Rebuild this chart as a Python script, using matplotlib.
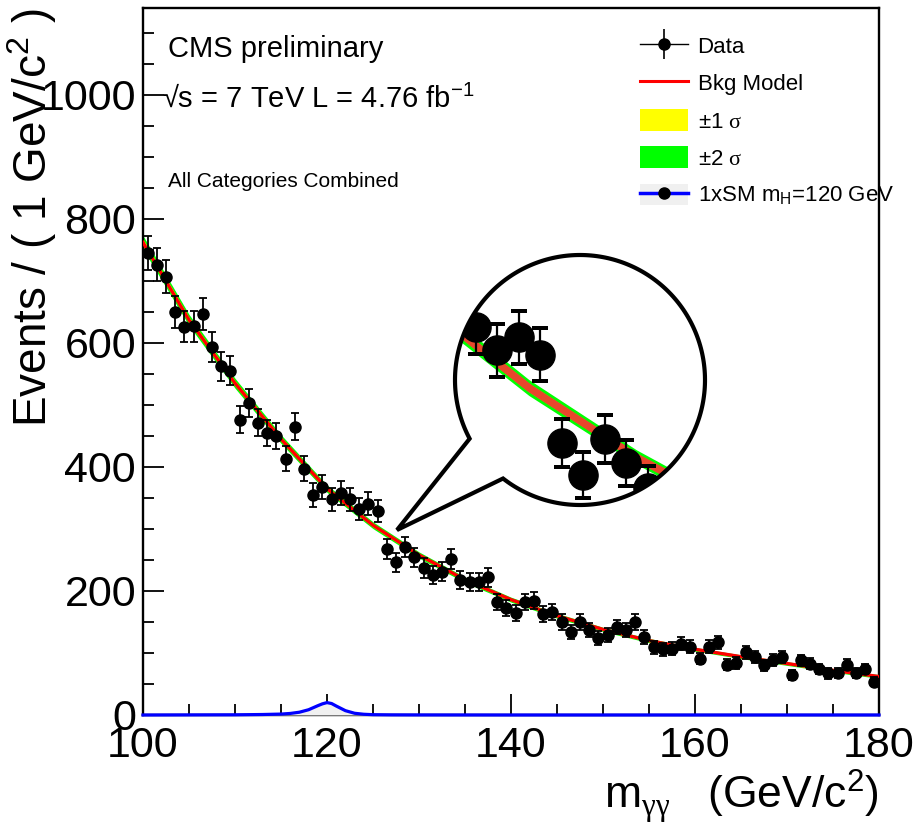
import numpy as np
import matplotlib
matplotlib.use("Agg")
import matplotlib.pyplot as plt
from matplotlib.lines import Line2D
from matplotlib.patches import Patch, Circle, PathPatch
from matplotlib.path import Path
from matplotlib.legend_handler import HandlerTuple
from matplotlib.ticker import MultipleLocator

plt.rcParams['font.family'] = ['Liberation Sans', 'DejaVu Sans']
plt.rcParams['mathtext.fontset'] = 'custom'
plt.rcParams['mathtext.rm'] = 'Liberation Sans'
plt.rcParams['mathtext.it'] = 'Liberation Sans:italic'
plt.rcParams['mathtext.cal'] = 'Liberation Serif'

# --- data ---
mass = np.arange(100.5, 180, 1.0)   # 1 GeV bin centres
events = [745, 726, 707, 650, 626, 627, 647, 594, 562, 555,
          476, 503, 471, 455, 450, 413, 465, 397, 355, 368,
          348, 358, 348, 332, 341, 329, 268, 246, 271, 254,
          237, 226, 231, 252, 218, 214, 215, 222, 182, 172,
          164, 182, 184, 163, 166, 150, 134, 150, 137, 124,
          129, 142, 137, 150, 126, 109, 106, 107, 115, 110,
          91, 110, 117, 81, 84, 101, 93, 80, 89, 93,
          65, 88, 83, 74, 67, 68, 81, 68, 74, 54]

bkg_mass = [100, 105, 110, 115, 120, 125, 130, 135, 140,
            145, 150, 155, 160, 165, 170, 175, 180]
bkg_model = [762, 637, 535, 445, 365, 306, 258, 218, 186,
             160, 138, 120, 106, 94, 83, 72, 62]
band_2sig = [11, 9, 8, 7, 6, 5.5, 5, 4.5, 4, 4, 3.5, 3.5, 3, 3, 3, 3, 3]
band_1sig = [5.5, 4.5, 4, 3.5, 3, 2.8, 2.5, 2.3, 2, 2, 1.8, 1.8, 1.5, 1.5, 1.5, 1.5, 1.5]

sig_mass = [100, 110, 113, 115, 116, 117, 118, 119, 119.5, 120, 120.5,
            121, 122, 123, 124, 125, 127, 130, 140, 180]
sig_events = [0, 0.3, 0.8, 1.5, 2.5, 4.5, 8.5, 15, 18, 20, 18.5,
              14.5, 7, 2.8, 1.2, 0.5, 0.2, 0.1, 0, 0]

bkg_lo2 = np.array(bkg_model) - np.array(band_2sig)
bkg_hi2 = np.array(bkg_model) + np.array(band_2sig)
bkg_lo1 = np.array(bkg_model) - np.array(band_1sig)
bkg_hi1 = np.array(bkg_model) + np.array(band_1sig)
err = np.sqrt(events)

W, H = 915, 826
fig = plt.figure(figsize=(W / 100, H / 100), dpi=100)
ax = fig.add_axes([143 / W, 111 / H, 736 / W, 707 / H])

ax.fill_between(bkg_mass, bkg_lo2, bkg_hi2, color='#00ff00', lw=0, zorder=2)
ax.fill_between(bkg_mass, bkg_lo1, bkg_hi1, color='#ffff00', lw=0, zorder=2)
ax.plot(bkg_mass, bkg_model, color='#ff0000', lw=2.4, zorder=3)
ax.errorbar(mass, events, yerr=err, fmt='o', color='k', ms=8,
            elinewidth=1.3, capsize=3, capthick=1.3, zorder=5)
ax.fill_between(sig_mass, 0, sig_events, color='#f0f0f0', lw=0, zorder=4)
ax.plot(sig_mass, sig_events, color='#0000ff', lw=2.3, clip_on=False, zorder=6)

ax.set_xlim(100, 180)
ax.set_ylim(0, 1140)
ax.xaxis.set_major_locator(MultipleLocator(20))
ax.xaxis.set_minor_locator(MultipleLocator(5))
ax.yaxis.set_major_locator(MultipleLocator(200))
ax.yaxis.set_minor_locator(MultipleLocator(50))
ax.tick_params(which='both', direction='in', top=False, right=False, width=1.3)
ax.tick_params(which='major', length=15, labelsize=31)
ax.tick_params(which='minor', length=8)
ax.tick_params(axis='y', pad=5)
ax.tick_params(axis='x', pad=8)
for s in ax.spines.values():
    s.set_linewidth(1.7)

ax.set_ylabel('Events / ( 1 GeV/c$^{2}$ )', fontsize=33, va='center')
ax.yaxis.set_label_coords(-0.151, 0.703)
ax.set_xlabel(r'm$_{\mathcal{\gamma\gamma}}$   (GeV/c$^{2}$)', fontsize=32,
              ha='right', va='center')
ax.xaxis.set_label_coords(1.0, -0.114)

fig.text(168 / W, 1 - 57 / H, 'CMS preliminary', fontsize=21, va='baseline')
fig.text(162 / W, 1 - 107 / H, '√s = 7 TeV L = 4.76 fb$^{-1}$', fontsize=21,
         va='baseline')
fig.text(168 / W, 1 - 187 / H, 'All Categories Combined', fontsize=15,
         va='baseline')

# legend
h_data = (Line2D([], [], color='k', lw=1, marker='o', ms=8),
          Line2D([], [], ls='none', marker='|', ms=22, mew=1.2, color='k'))
h_bkg = Line2D([], [], color='#ff0000', lw=2.2)
h_1s = Patch(facecolor='#ffff00', edgecolor='none')
h_2s = Patch(facecolor='#00ff00', edgecolor='none')
h_sig = (Patch(facecolor='#f0f0f0', edgecolor='none'),
         Line2D([], [], color='#0000ff', lw=2.5, marker='o', ms=8,
                mfc='k', mec='k'))
fig.legend([h_data, h_bkg, h_1s, h_2s, h_sig],
           ['Data', 'Bkg Model', r'±1 $\mathcal{\sigma}$', r'±2 $\mathcal{\sigma}$',
            r'1xSM m$_{\mathrm{H}}$=120 GeV'],
           handler_map={tuple: HandlerTuple(ndivide=1)},
           loc='upper left', bbox_to_anchor=(640 / W, 1 - 35 / H),
           frameon=False, fontsize=16, handlelength=2.15, handleheight=1.12,
           handletextpad=0.44, labelspacing=0.62, borderpad=0, borderaxespad=0)

# speech-bubble magnifier
cx, cy, r = 580, 380, 125
t = np.radians(np.linspace(128, 152 - 360, 260))
bx = list(cx + r * np.cos(t)) + [397, cx + r * np.cos(t[0])]
by = list(cy + r * np.sin(t)) + [530, cy + r * np.sin(t[0])]
verts = [(x / W, 1 - y / H) for x, y in zip(bx, by)]
codes = [Path.MOVETO] + [Path.LINETO] * (len(verts) - 2) + [Path.CLOSEPOLY]
bubble = Path(verts, codes)
fig.add_artist(PathPatch(bubble, facecolor='white', edgecolor='none',
                         transform=fig.transFigure, zorder=2))

ins = fig.add_axes([(cx - r) / W, 1 - (cy + r) / H, 2 * r / W, 2 * r / H],
                   zorder=3)
ins.axis('off')
ins.fill_between(bkg_mass, bkg_lo2, bkg_hi2, color='#00ff00', lw=0)
ins.fill_between(bkg_mass, bkg_lo1, bkg_hi1, color='#ffff00', lw=0)
ins.plot(bkg_mass, bkg_model, color='#e8472c', lw=5.5)
ins.errorbar(mass, events, yerr=err, fmt='o', color='k', ms=21,
             elinewidth=1.6, capsize=6, capthick=1.6)
ins.set_xlim(121.54, 133.17)
ins.set_ylim(225.2, 397.9)
clip = Circle((0.5, 0.5), 0.5, transform=ins.transAxes)
for art in ins.lines + ins.collections:
    art.set_clip_path(clip)

fig.add_artist(PathPatch(bubble, facecolor='none', edgecolor='k', lw=3,
                         joinstyle='miter', transform=fig.transFigure, zorder=4))

fig.savefig('out.png', dpi=100)
